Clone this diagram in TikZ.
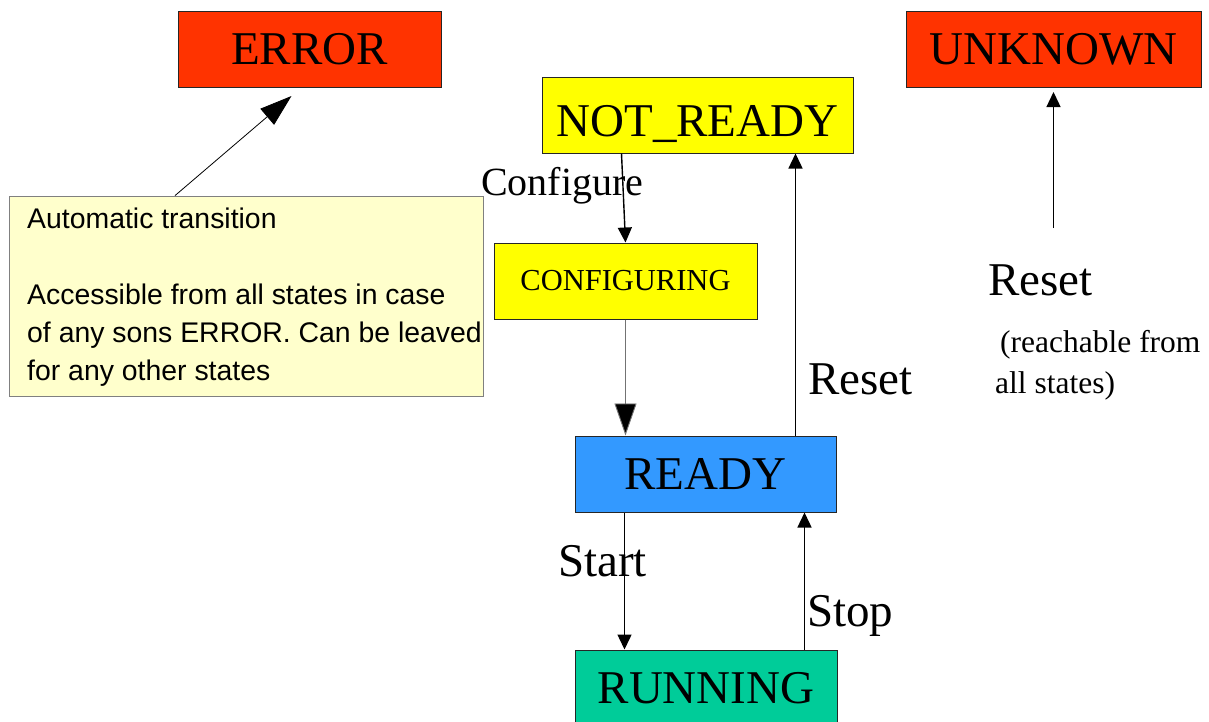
\documentclass[tikz,border=0pt]{standalone}
\usepackage{fontspec}
\setmainfont{Liberation Serif}
\newfontfamily\notefont{Liberation Sans}
\usetikzlibrary{arrows.meta,calc}
\definecolor{errred}{HTML}{FF3300}
\definecolor{notyellow}{HTML}{FFFF00}
\definecolor{readyblue}{HTML}{3399FF}
\definecolor{rungreen}{HTML}{00CC99}
\definecolor{notepale}{HTML}{FFFFCC}
\begin{document}
\begin{tikzpicture}[x=1pt,y=-1pt,
		state/.style={draw=black!85,line width=1pt,inner sep=0pt,
			minimum height=76pt,font=\fontsize{47}{56}\selectfont},
		trans/.style={line width=1.4pt,-{Triangle[length=15pt,width=14pt]}},
		lbl/.style={inner sep=0pt,anchor=base west,font=\fontsize{47}{56}\selectfont}]
		\useasboundingbox (0,0) rectangle (1209,721);
		
		% states
		\node[state,fill=errred,minimum width=263pt] (err) at (309.5,49.5) {ERROR};
		\node[state,fill=errred,minimum width=295pt] (unk) at (1053.5,49.5) {UNKNOWN};
		\node[state,fill=notyellow,minimum width=311pt,text height=42pt,
			text depth=0pt] (nr) at (697.5,115) {NOT\_READY};
		\node[state,fill=notyellow,minimum width=263pt,
			font=\fontsize{30.5}{36}\selectfont] (cfg) at (625.5,281) {CONFIGURING};
		\node[state,fill=readyblue,minimum width=261pt] (rdy) at (705.5,474) {READY};
		\node[state,fill=rungreen,minimum width=262pt] (run) at (706,688) {RUNNING};
		
		% note about the error state (anchored on its last line)
		\node[draw=black!50,fill=notepale,line width=0.8pt,minimum width=474pt,
			minimum height=200.5pt,inner sep=0pt] (note) at (246.5,296.25) {};
		\node[inner sep=0pt,anchor=base west,font=\notefont\fontsize{28.4}{38}\selectfont,
			align=left] (notetext) at (27,380) {Automatic transition\\[38pt]
			Accessible from all states in case\\
			of any sons ERROR. Can be leaved\\
			for any other states};
		\draw[line width=0.8pt,-{Triangle[length=32pt,width=21pt]}]
			($(note.north)+(-71.5,0)$) -- ($(err.south)+(-18,8)$);
		
		% transitions
		\draw[trans] ($(nr.south west)+(80,0)$) -- (cfg.north);
		\draw[line width=0.9pt,draw=black!55,-{Triangle[length=32pt,width=22pt,fill=black]}]
			(cfg.south) -- ($(rdy.north west)+(51,0)$);
		\draw[trans] ($(rdy.north west)+(221,0)$) -- ($(nr.south west)+(254,0)$);
		\draw[trans] ($(rdy.south west)+(50,0)$) -- ($(run.north west)+(50,0)$);
		\draw[trans] ($(run.north west)+(230,0)$) -- ($(rdy.south west)+(230,0)$);
		\coordinate (rst) at (1053.5,228);
		\draw[trans,shorten >=4pt] (rst) -- (unk.south);
		
		% transition labels
		\node[lbl,font=\fontsize{40}{48}\selectfont] (lcfg) at (481,195) {Configure};
		\node[lbl] (lrst) at (808,394) {Reset};
		\node[lbl] (lstart) at (558,576) {Start};
		\node[lbl] (lstop) at (807,626) {Stop};
		\node[lbl] (lunk) at (988,295) {Reset};
		\node[inner sep=0pt,anchor=base west,align=left,
			font=\fontsize{31.5}{41}\selectfont] (lall) at (995,393)
			{\hspace{5pt}(reachable from\\all states)};
	\end{tikzpicture}
\end{document}
